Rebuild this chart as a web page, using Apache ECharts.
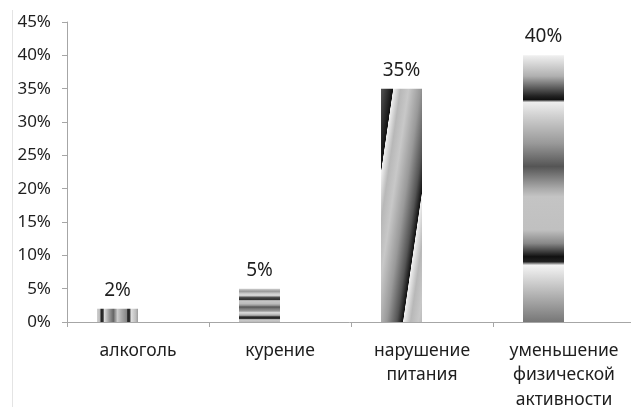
<!DOCTYPE html>
<html>
<head>
<meta charset="utf-8">
<script src="https://cdn.jsdelivr.net/npm/echarts@6/dist/echarts.min.js"></script>
<style>
  html, body { margin: 0; padding: 0; background: #fff; }
  #mainChart { width: 631px; height: 407px; }
</style>
</head>
<body>
<div id="mainChart"></div>
<script>
// категории и значения
var categories = ['алкоголь', 'курение', 'нарушение\nпитания', 'уменьшение\nфизической\nактивности']
var values = [0.02, 0.05, 0.35, 0.40]
var yMin = 0
var yMax = 0.45
var yStep = 0.05

// штриховки столбцов (градиенты)
function grad (x2, y2, stops) {
  return new echarts.graphic.LinearGradient(0, 0, x2, y2, stops.map(function (s) {
    return { offset: s[0], color: s[1] }
  }))
}

var fills = [
  // вертикальные полосы
  grad(1, 0, [
    [0, '#cfcfcf'], [0.07, '#bbbbbb'], [0.1, '#222222'], [0.15, '#333333'],
    [0.18, '#dddddd'], [0.3, '#999999'], [0.4, '#666666'], [0.5, '#cccccc'],
    [0.6, '#aaaaaa'], [0.72, '#888888'], [0.75, '#222222'], [0.8, '#333333'],
    [0.83, '#e0e0e0'], [0.95, '#bbbbbb'], [1, '#999999']
  ]),
  // горизонтальные полосы
  grad(0, 1, [
    [0, '#d0d0d0'], [0.08, '#999999'], [0.15, '#cccccc'], [0.2, '#dddddd'],
    [0.27, '#444444'], [0.33, '#333333'], [0.36, '#c8c8c8'], [0.45, '#bbbbbb'],
    [0.5, '#999999'], [0.55, '#555555'], [0.6, '#777777'], [0.67, '#999999'],
    [0.72, '#dddddd'], [0.8, '#aaaaaa'], [0.85, '#222222'], [0.9, '#333333'],
    [0.93, '#cccccc'], [1, '#bbbbbb']
  ]),
  // наклонные полосы
  grad(1.79, 0.046, [
    [0, '#555555'], [0.16, '#111111'], [0.166, '#f0f0f0'], [0.26, '#b8b8b8'],
    [0.37, '#c8c8c8'], [0.53, '#999999'], [0.665, '#555555'], [0.745, '#111111'],
    [0.752, '#f0f0f0'], [0.85, '#b8b8b8'], [0.955, '#c8c8c8'], [1, '#bbbbbb']
  ]),
  // широкие горизонтальные переходы
  grad(0, 1, [
    [0, '#f0f0f0'], [0.078, '#b0b0b0'], [0.153, '#222222'], [0.166, '#111111'],
    [0.176, '#eeeeee'], [0.228, '#d0d0d0'], [0.33, '#999999'], [0.417, '#555555'],
    [0.5, '#aaaaaa'], [0.53, '#c4c4c4'], [0.655, '#c0c0c0'], [0.705, '#888888'],
    [0.755, '#111111'], [0.774, '#222222'], [0.787, '#f4f4f4'], [1, '#777777']
  ])
]

var pct = function (v) { return Math.round(v * 100) + '%' }

var chart = echarts.init(document.getElementById('mainChart'))
var option = {
  animation: false,
  textStyle: { fontFamily: 'Noto Sans' },
  graphic: [
    { type: 'line', shape: { x1: 12.5, y1: 10, x2: 12.5, y2: 407 }, style: { stroke: '#e4e4e4', lineWidth: 1 } }
  ],
  grid: { left: 67, right: -4, top: 22, bottom: 85, containLabel: false, outerBoundsMode: 'none' },
  xAxis: {
    type: 'category',
    data: categories,
    axisLine: { lineStyle: { color: '#a6a6a6', width: 1 } },
    axisTick: { show: true, length: 5, lineStyle: { color: '#a6a6a6' } },
    axisLabel: { color: '#1e1e1e', fontSize: 17.5, lineHeight: 24.5, margin: 16.5, interval: 0 }
  },
  yAxis: {
    type: 'value',
    min: yMin,
    max: yMax,
    interval: yStep,
    splitLine: { show: false },
    axisLine: { show: true, lineStyle: { color: '#a6a6a6', width: 1 } },
    axisTick: { show: true, length: 5, lineStyle: { color: '#a6a6a6' } },
    axisLabel: { color: '#1e1e1e', fontSize: 17, margin: 16, formatter: pct }
  },
  series: [
    {
      type: 'bar',
      barWidth: 41,
      barGap: '0%',
      data: values.map(function (v, i) {
        return { value: v, itemStyle: { color: fills[i] } }
      }),
      label: {
        show: true,
        position: 'top',
        distance: 9,
        color: '#1e1e1e',
        fontSize: 19,
        formatter: function (p) { return pct(p.value) }
      }
    },
    {
      type: 'bar',
      barWidth: 41,
      data: values.map(function () { return '-' })
    }
  ]
}
chart.setOption(option)
</script>
</body>
</html>
